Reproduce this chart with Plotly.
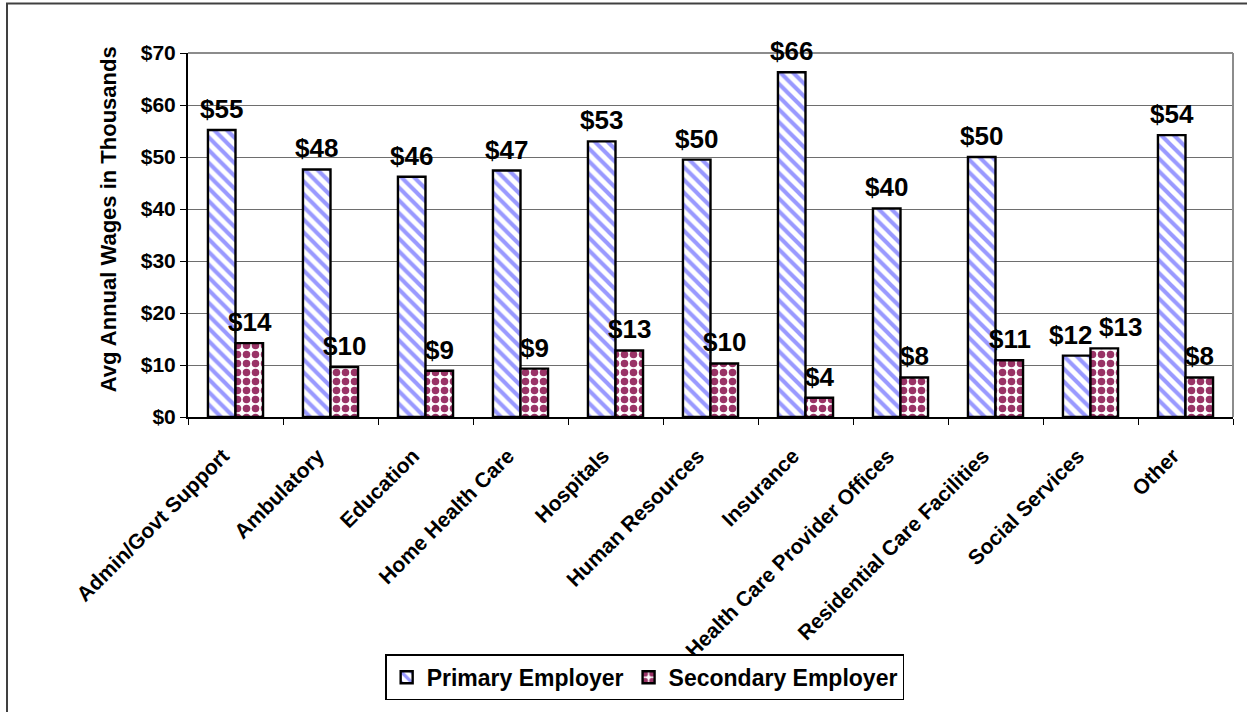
import plotly.graph_objects as go

# Average annual wages (thousands) by industry
categories = [
    "Admin/Govt Support", "Ambulatory", "Education", "Home Health Care",
    "Hospitals", "Human Resources", "Insurance", "Health Care Provider Offices",
    "Residential Care Facilities", "Social Services", "Other",
]
primary = [55.2, 47.6, 46.2, 47.4, 53.0, 49.5, 66.3, 40.1, 50.0, 11.8, 54.2]
secondary = [14.2, 9.6, 8.9, 9.3, 12.8, 10.3, 3.7, 7.6, 10.9, 13.2, 7.6]
primary_labels = ["$55", "$48", "$46", "$47", "$53", "$50", "$66", "$40", "$50", "$12", "$54"]
secondary_labels = ["$14", "$10", "$9", "$9", "$13", "$10", "$4", "$8", "$11", "$13", "$8"]

FONT = "Arial, Liberation Sans, sans-serif"
BAR_SHIFT = 14  # px from category centre to each bar centre

fig = go.Figure()

fig.add_trace(go.Bar(
    x=categories, y=primary, name="Primary Employer",
    marker=dict(
        color="white",
        line=dict(color="black", width=2.4),
        pattern=dict(shape="\\", fgcolor="#9999ff", bgcolor="white", fgopacity=1,
                     size=9, solidity=0.45),
    ),
))

fig.add_trace(go.Bar(
    x=categories, y=secondary, name="Secondary Employer",
    marker=dict(
        color="white",
        line=dict(color="black", width=2.4),
        pattern=dict(shape=".", fgcolor="#993366", bgcolor="white", fgopacity=1,
                     size=9, solidity=0.55),
    ),
))

# value labels as annotations so the crowded Social Services pair can sit side by side
for cat, p, s, pl, sl in zip(categories, primary, secondary, primary_labels, secondary_labels):
    crowded = cat == "Social Services"
    fig.add_annotation(x=cat, y=p, text=pl, showarrow=False, yanchor="bottom",
                       xshift=-BAR_SHIFT - (6 if crowded else 0), yshift=4,
                       font=dict(family=FONT, size=26, color="black", weight="bold"))
    fig.add_annotation(x=cat, y=s, text=sl, showarrow=False, yanchor="bottom",
                       xshift=BAR_SHIFT + (16 if crowded else 0), yshift=4,
                       font=dict(family=FONT, size=26, color="black", weight="bold"))

# y axis title (placed by hand, Excel sets it a bit above centre)
fig.add_annotation(xref="paper", yref="paper", x=-0.0765, y=0.5435,
                   xanchor="center", yanchor="middle",
                   text="Avg Annual Wages in Thousands", textangle=-90, showarrow=False,
                   font=dict(family=FONT, size=22, color="black", weight="bold"))

# outer chart border (Excel chart area), right/bottom run off the page
fig.add_shape(type="rect", xref="paper", yref="paper",
              x0=-0.1732, x1=1.05, y0=-0.85, y1=1.136,
              line=dict(color="#404040", width=2), layer="below")

# gray plot-area border on top/right
fig.add_shape(type="line", xref="paper", yref="paper", x0=0, x1=1, y0=1, y1=1,
              line=dict(color="#8c8c8c", width=2))
fig.add_shape(type="line", xref="paper", yref="paper", x0=1, x1=1, y0=0, y1=1,
              line=dict(color="#8c8c8c", width=2))

fig.update_layout(
    width=1247, height=712,
    paper_bgcolor="white", plot_bgcolor="white",
    font=dict(family=FONT, color="black"),
    margin=dict(l=188, r=14, t=53, b=291),
    barmode="group", bargap=0.42, bargroupgap=0,
    showlegend=True,
    legend=dict(
        orientation="h", x=0.437, xanchor="center", y=-0.652, yanchor="top",
        font=dict(family=FONT, size=23, color="black", weight="bold"),
        bordercolor="black", borderwidth=1.5, bgcolor="white",
        itemwidth=30, tracegroupgap=0,
    ),
    xaxis=dict(
        tickangle=-45, tickson="boundaries", ticks="outside", ticklen=6,
        tickcolor="black", showline=True, linecolor="black", linewidth=2,
        tickfont=dict(family=FONT, size=21, color="black", weight="bold"),
        tickvals=categories,
        ticktext=[c + "\u00a0" * 3 for c in categories],
        ticklabelstandoff=4,
        showgrid=False,
    ),
    yaxis=dict(
        range=[0, 70], dtick=10, tickprefix="$",
        ticks="outside", ticklen=6, tickcolor="black",
        showline=True, linecolor="black", linewidth=2,
        showgrid=True, gridcolor="#6e6e6e", gridwidth=1,
        zeroline=False,
        tickfont=dict(family=FONT, size=21, color="black", weight="bold"),
    ),
)

fig.write_html("out.html", config={"displayModeBar": False},
               post_script="document.body.style.margin='0px';")
